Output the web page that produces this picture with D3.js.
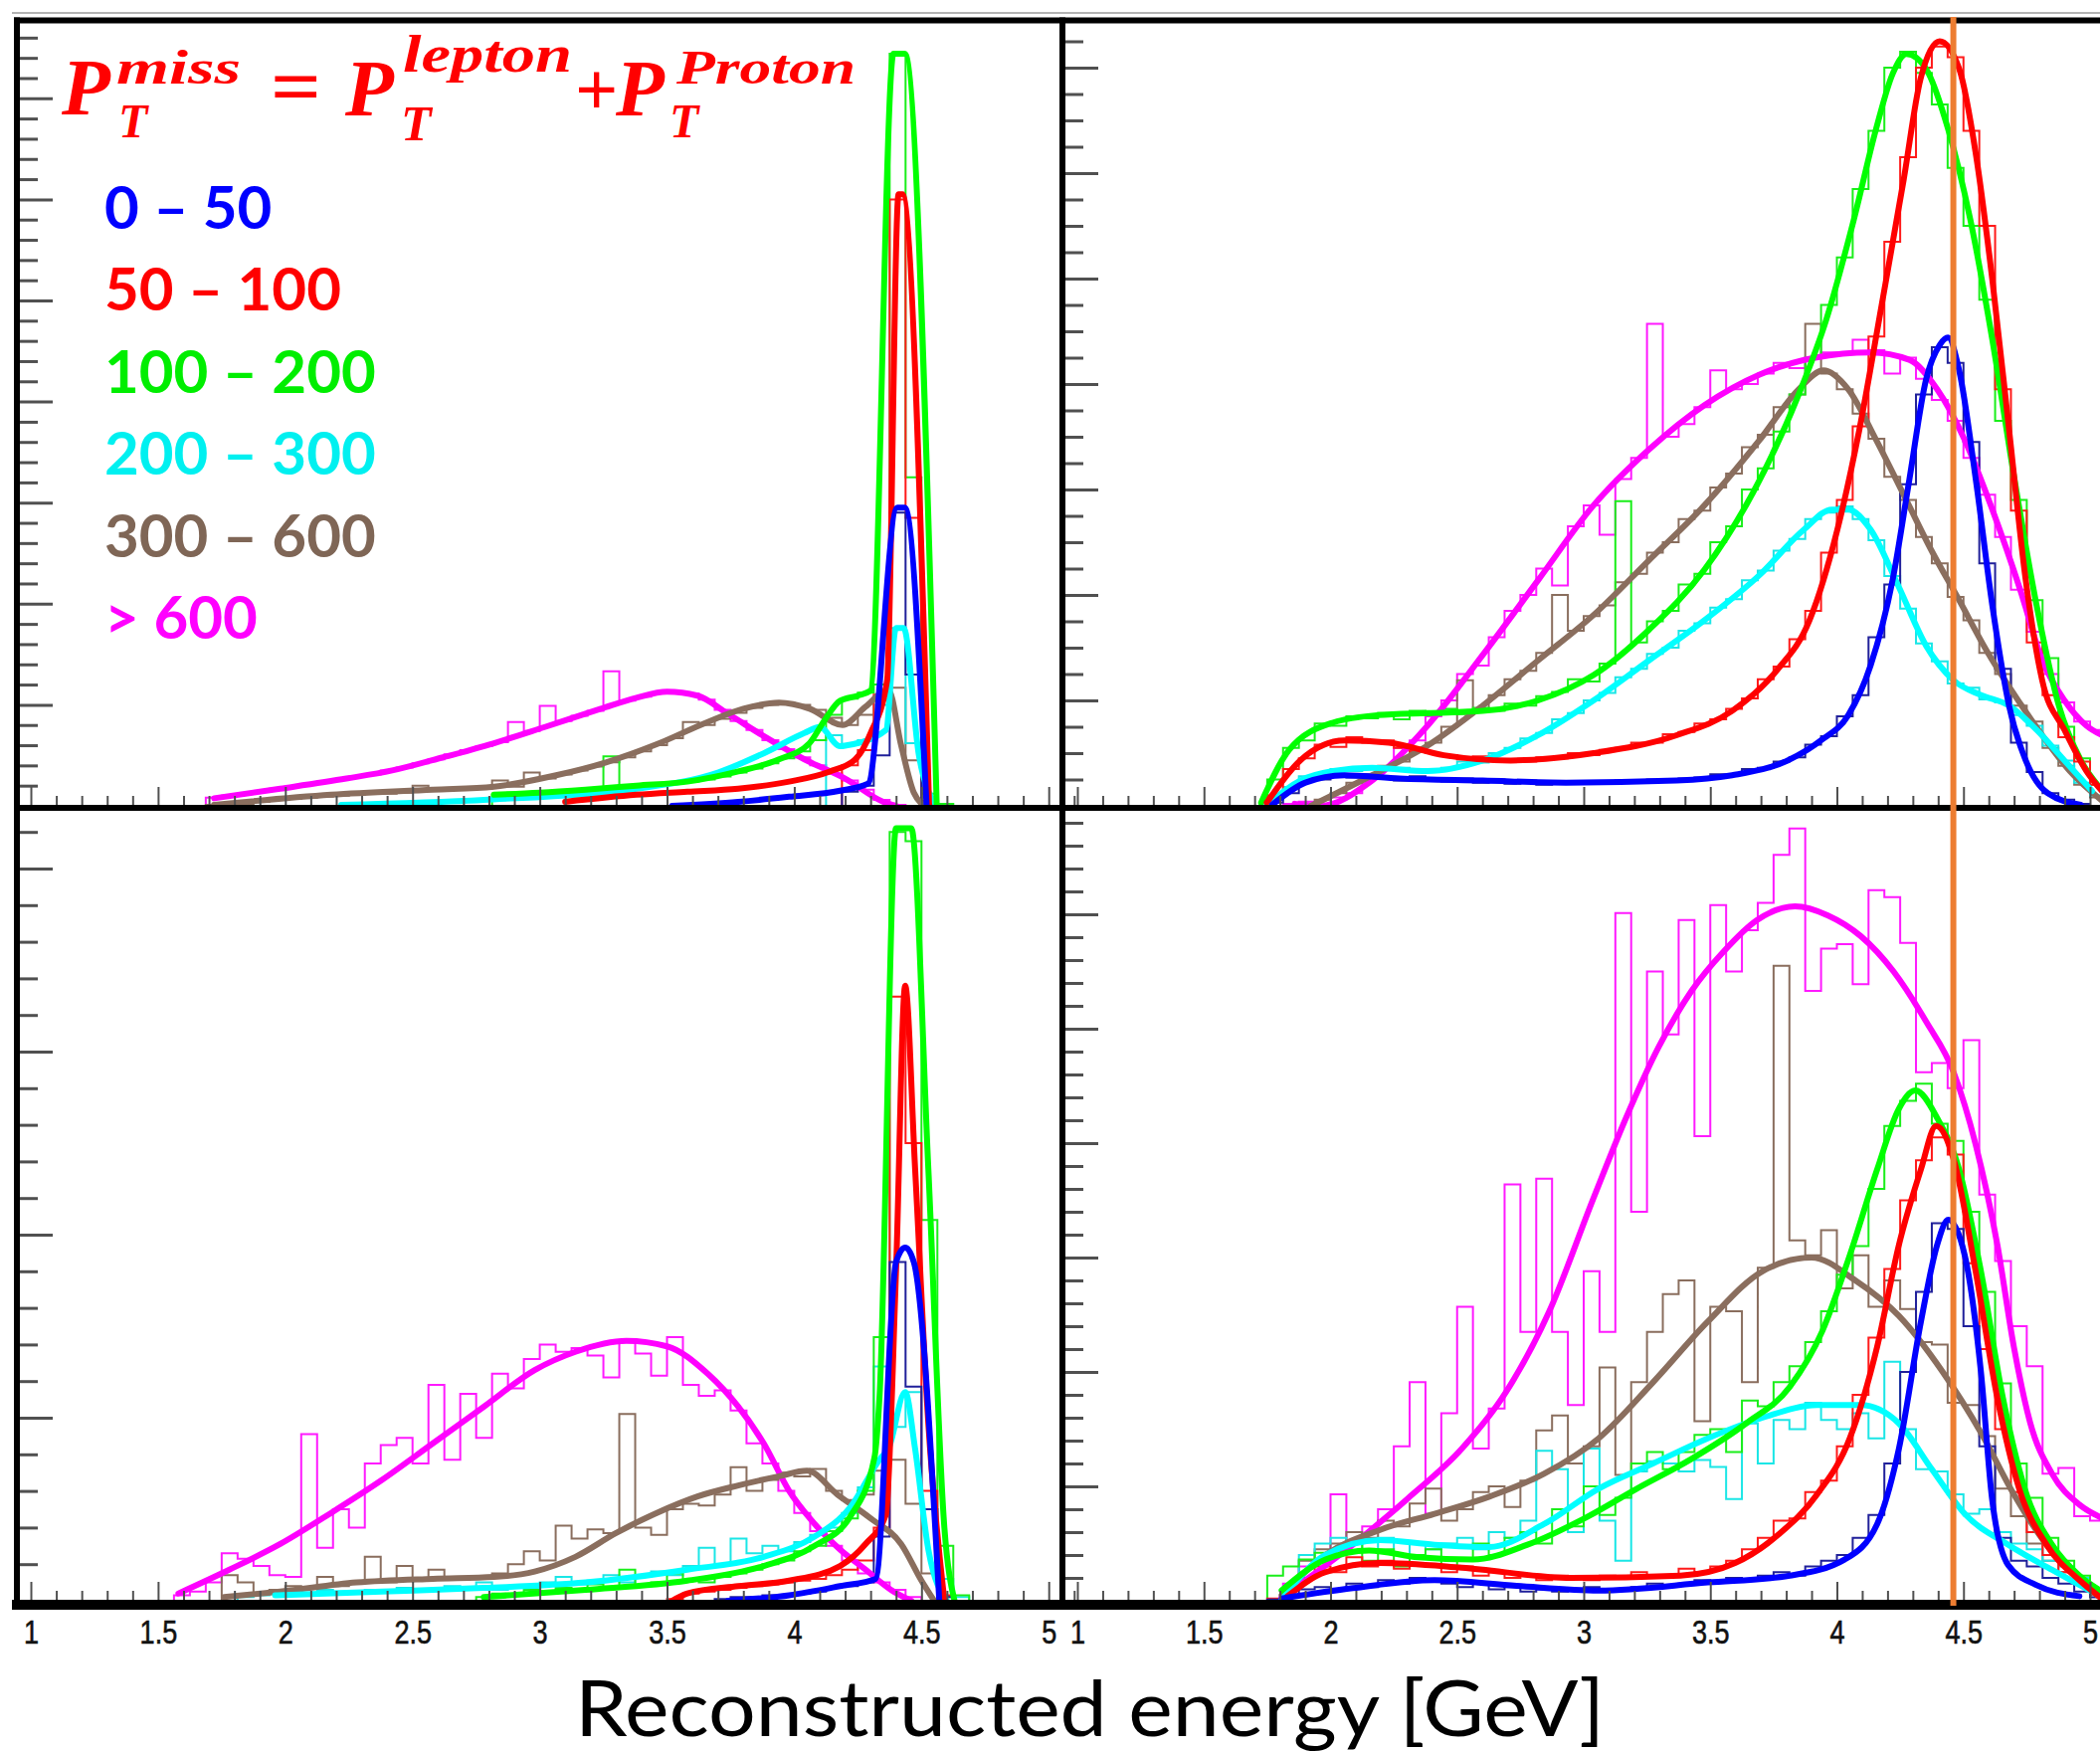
<!DOCTYPE html>
<html><head><meta charset="utf-8">
<script src="https://cdn.jsdelivr.net/npm/d3@7/dist/d3.min.js"></script>
<style>html,body{margin:0;padding:0;background:#fff;} svg{display:block;}</style>
</head><body>
<svg id="chart" width="2111" height="1760" xmlns="http://www.w3.org/2000/svg"></svg>
<script>
// ---------------- DATA ----------------
const seriesNames = ["0 \u2013 50", "50 \u2013 100", "100 \u2013 200", "200 \u2013 300", "300 \u2013 600", "> 600"];
const xTickValues = [1, 1.5, 2, 2.5, 3, 3.5, 4, 4.5, 5];
const xTickLabels = ["1", "1.5", "2", "2.5", "3", "3.5", "4", "4.5", "5"];
const axisTitle = "Reconstructed energy [GeV]";
const markerEnergy = 4.46;
const binWidth = 0.0625;

// fit curves [energy, value]; series order: blue, red, green, cyan, brown, magenta
// top-left
const fitTLBlue = [[3.52,0.0],[3.78,0.04],[3.98,0.09],[4.18,0.15],[4.29,0.22],[4.405,2.95],[4.435,2.95],[4.52,0.0]];
const fitTLRed = [[3.10,0.04],[3.38,0.11],[3.58,0.14],[3.78,0.17],[3.98,0.24],[4.14,0.34],[4.24,0.46],[4.30,0.72],[4.365,1.24],[4.41,6.05],[4.425,6.05],[4.53,0.0]];
const fitTLGreen = [[2.82,0.11],[3.0,0.13],[3.18,0.16],[3.38,0.2],[3.58,0.24],[3.78,0.34],[3.94,0.46],[4.06,0.62],[4.12,0.85],[4.18,1.04],[4.25,1.09],[4.30,1.14],[4.39,7.44],[4.435,7.44],[4.56,0.0]];
const fitTLCyan = [[2.22,0.01],[2.78,0.06],[3.38,0.17],[3.70,0.33],[3.88,0.52],[4.04,0.72],[4.10,0.78],[4.18,0.59],[4.21,0.6],[4.36,0.75],[4.40,1.76],[4.43,1.76],[4.49,0.5],[4.56,0.0]];
const fitTLBrown = [[1.72,0.01],[2.18,0.11],[2.58,0.16],[2.82,0.19],[3.06,0.30],[3.26,0.43],[3.46,0.61],[3.66,0.83],[3.80,0.96],[3.94,1.02],[4.06,0.96],[4.19,0.80],[4.28,0.98],[4.37,1.15],[4.42,0.6],[4.47,0.13],[4.50,0.02]];
const fitTLMagenta = [[1.72,0.075],[1.98,0.17],[2.24,0.27],[2.42,0.35],[2.62,0.48],[2.82,0.62],[3.02,0.78],[3.24,0.96],[3.38,1.07],[3.50,1.13],[3.62,1.09],[3.74,0.91],[3.88,0.69],[4.04,0.46],[4.20,0.27],[4.35,0.04],[4.40,0.0]];
// top-right
const fitTRBlue = [[1.77,0.01],[1.901,0.22],[2.055,0.29],[2.273,0.26],[2.601,0.24],[2.93,0.22],[3.367,0.24],[3.586,0.29],[3.805,0.43],[3.936,0.62],[4.045,0.86],[4.133,1.33],[4.22,2.14],[4.286,3.09],[4.352,4.04],[4.406,4.37],[4.439,4.44],[4.483,4.13],[4.549,3.09],[4.614,1.9],[4.68,0.95],[4.746,0.43],[4.833,0.12],[4.964,0.01]];
const fitTRRed = [[1.748,0.03],[1.88,0.43],[2.055,0.62],[2.23,0.6],[2.448,0.48],[2.711,0.43],[3.039,0.5],[3.367,0.67],[3.586,0.9],[3.761,1.28],[3.892,1.76],[4.002,2.62],[4.089,3.57],[4.177,4.75],[4.264,5.94],[4.33,6.89],[4.406,7.25],[4.483,6.99],[4.549,6.18],[4.614,4.99],[4.68,3.57],[4.746,2.14],[4.811,1.19],[4.899,0.72],[4.986,0.33],[5.047,0.14]];
const fitTRGreen = [[1.726,0.03],[1.836,0.53],[2.011,0.79],[2.186,0.86],[2.383,0.88],[2.601,0.9],[2.82,1.0],[3.039,1.24],[3.258,1.67],[3.477,2.24],[3.695,3.09],[3.849,3.90],[3.958,4.61],[4.067,5.56],[4.155,6.42],[4.22,6.94],[4.275,7.13],[4.352,6.99],[4.439,6.42],[4.527,5.56],[4.614,4.42],[4.702,3.09],[4.789,1.9],[4.877,0.95],[4.964,0.43],[5.047,0.15]];
const fitTRCyan = [[1.748,0.01],[1.88,0.24],[2.011,0.33],[2.164,0.36],[2.383,0.33],[2.601,0.43],[2.82,0.67],[3.039,1.0],[3.258,1.38],[3.477,1.76],[3.695,2.19],[3.87,2.62],[3.98,2.81],[4.045,2.81],[4.133,2.62],[4.242,2.09],[4.352,1.52],[4.461,1.19],[4.57,1.05],[4.68,0.95],[4.789,0.72],[4.899,0.43],[5.008,0.14]];
const fitTRBrown = [[1.923,0.0],[2.164,0.29],[2.383,0.57],[2.601,0.95],[2.82,1.38],[3.039,1.81],[3.258,2.33],[3.477,2.85],[3.695,3.47],[3.849,3.95],[3.947,4.13],[4.045,3.95],[4.155,3.47],[4.264,2.95],[4.374,2.42],[4.483,1.95],[4.592,1.47],[4.702,1.05],[4.811,0.67],[4.92,0.33],[5.047,0.05]];
const fitTRMagenta = [[1.858,0.02],[1.96,0.0],[2.164,0.24],[2.383,0.76],[2.601,1.43],[2.82,2.14],[3.039,2.85],[3.258,3.38],[3.477,3.80],[3.695,4.09],[3.914,4.25],[4.133,4.30],[4.286,4.23],[4.396,3.95],[4.505,3.47],[4.614,2.81],[4.724,2.05],[4.811,1.38],[4.899,1.0],[4.986,0.76],[5.047,0.67]];
// bottom-left
const fitBLBlue = [[3.74,0.0],[3.98,0.03],[4.18,0.08],[4.32,0.12],[4.40,1.85],[4.436,1.93],[4.47,1.85],[4.57,0.0]];
const fitBLRed = [[3.52,0.0],[3.58,0.04],[3.78,0.08],[3.98,0.11],[4.18,0.19],[4.28,0.31],[4.36,0.47],[4.40,1.8],[4.436,3.36],[4.475,2.36],[4.527,0.97],[4.59,0.0]];
const fitBLGreen = [[2.78,0.02],[3.18,0.06],[3.58,0.11],[3.88,0.19],[4.08,0.30],[4.22,0.46],[4.315,0.78],[4.335,1.11],[4.40,4.22],[4.46,4.22],[4.527,2.36],[4.59,0.4],[4.63,0.0]];
const fitBLCyan = [[1.96,0.03],[2.38,0.05],[2.78,0.07],[3.18,0.1],[3.58,0.17],[3.88,0.24],[4.08,0.35],[4.22,0.51],[4.34,0.78],[4.37,0.83],[4.436,1.14],[4.475,0.83],[4.527,0.28],[4.6,0.0]];
const fitBLBrown = [[1.76,0.02],[1.98,0.05],[2.28,0.1],[2.58,0.12],[2.82,0.13],[2.98,0.16],[3.14,0.24],[3.30,0.37],[3.46,0.48],[3.62,0.57],[3.78,0.63],[3.94,0.68],[4.05,0.71],[4.17,0.58],[4.30,0.45],[4.42,0.31],[4.50,0.11],[4.55,0.0]];
const fitBLMagenta = [[1.58,0.04],[1.78,0.17],[1.98,0.31],[2.18,0.48],[2.38,0.66],[2.58,0.86],[2.78,1.06],[2.98,1.26],[3.14,1.36],[3.34,1.42],[3.50,1.39],[3.66,1.24],[3.78,1.06],[3.88,0.86],[3.98,0.6],[4.08,0.42],[4.18,0.28],[4.28,0.17],[4.38,0.06],[4.46,0.0]];
// bottom-right
const fitBRBlue = [[1.807,0.02],[2.088,0.11],[2.411,0.18],[2.735,0.13],[3.059,0.09],[3.49,0.16],[3.814,0.22],[4.03,0.36],[4.159,0.67],[4.245,1.33],[4.332,2.44],[4.396,3.11],[4.44,3.33],[4.505,3.02],[4.569,2.0],[4.613,0.89],[4.677,0.31],[4.785,0.14],[4.958,0.04]];
const fitBRRed = [[1.83,0.04],[1.98,0.25],[2.196,0.33],[2.519,0.29],[2.951,0.20],[3.382,0.22],[3.598,0.33],[3.77,0.58],[3.922,0.93],[4.051,1.42],[4.159,2.22],[4.245,3.11],[4.332,3.77],[4.392,4.15],[4.461,3.86],[4.548,2.88],[4.634,1.77],[4.72,0.98],[4.828,0.49],[4.958,0.18],[5.04,0.03]];
const fitBRGreen = [[1.807,0.09],[1.98,0.36],[2.152,0.44],[2.347,0.38],[2.562,0.36],[2.778,0.49],[2.994,0.71],[3.21,0.98],[3.426,1.24],[3.641,1.55],[3.814,1.87],[3.943,2.36],[4.051,3.02],[4.159,3.77],[4.245,4.30],[4.31,4.46],[4.396,4.22],[4.483,3.77],[4.569,2.88],[4.656,1.77],[4.742,0.98],[4.85,0.49],[4.958,0.22],[5.04,0.09]];
const fitBRCyan = [[1.807,0.01],[1.98,0.40],[2.196,0.53],[2.411,0.49],[2.627,0.47],[2.843,0.67],[3.059,0.98],[3.274,1.20],[3.49,1.42],[3.706,1.60],[3.922,1.71],[4.094,1.71],[4.245,1.55],[4.375,1.15],[4.505,0.76],[4.677,0.49],[4.85,0.27],[5.04,0.04]];
const fitBRBrown = [[1.807,0.05],[1.98,0.40],[2.196,0.62],[2.411,0.76],[2.627,0.91],[2.843,1.11],[3.059,1.42],[3.274,1.91],[3.49,2.44],[3.706,2.88],[3.90,3.0],[4.073,2.80],[4.245,2.49],[4.418,2.0],[4.569,1.47],[4.699,0.93],[4.828,0.49],[4.958,0.18],[5.04,0.03]];
const fitBRMagenta = [[1.807,0.03],[2.088,0.49],[2.303,0.89],[2.519,1.33],[2.692,1.82],[2.864,2.53],[3.037,3.51],[3.167,4.22],[3.296,4.84],[3.426,5.33],[3.555,5.68],[3.685,5.95],[3.835,6.07],[3.965,5.99],[4.094,5.81],[4.224,5.50],[4.353,5.06],[4.461,4.62],[4.548,3.99],[4.634,3.11],[4.699,2.22],[4.763,1.56],[4.85,1.11],[4.958,0.84],[5.04,0.73]];

// histograms: first bin low edge + bin contents (bin width 0.0625 GeV)
const histTLBlueStart = 4.1875, histTLBlue = [0.14,0.2,0.5,2.9,1.3,0.02];
const histTLRedStart = 4.1875, histTLRed = [0.4,0.55,1.1,6.0,2.85,0.05];
const histTLGreenStart = 2.8125, histTLGreen = [0.11,0.12,0.12,0.13,0.14,0.15,0.16,0.49,0.18,0.19,0.21,0.22,0.24,0.26,0.29,0.33,0.37,0.42,0.47,0.54,0.65,0.9,1.06,1.12,1.2,7.44,3.25,0.12,0.02];
const histTLCyanStart = 4.125, histTLCyan = [0.7,0.6,0.65,1.0,1.76,0.62,0.03];
const histTLBrownStart = 1.6875, histTLBrown = [0.01,0.01,0.02,0.04,0.06,0.07,0.08,0.09,0.1,0.11,0.12,0.12,0.13,0.2,0.15,0.16,0.17,0.17,0.25,0.19,0.33,0.27,0.31,0.35,0.39,0.43,0.48,0.54,0.6,0.67,0.83,0.8,0.86,0.92,0.97,1.0,1.02,1.0,0.95,0.87,0.8,0.9,1.05,1.17,0.45,0.05];
const histTLMagentaStart = 1.6875, histTLMagenta = [0.08,0.1,0.12,0.14,0.17,0.19,0.21,0.24,0.26,0.29,0.31,0.35,0.38,0.42,0.46,0.51,0.55,0.59,0.63,0.83,0.74,0.99,0.84,0.89,0.94,1.33,1.04,1.08,1.12,1.13,1.11,1.05,0.95,0.84,0.75,0.65,0.56,0.48,0.4,0.32,0.25,0.16,0.06,0.01];

const histTRBlueStart = 1.75, histTRBlue = [0.03,0.12,0.24,0.25,0.3,0.27,0.3,0.26,0.24,0.28,0.25,0.23,0.26,0.22,0.25,0.21,0.24,0.2,0.23,0.21,0.23,0.22,0.24,0.22,0.25,0.23,0.26,0.27,0.3,0.3,0.35,0.36,0.42,0.46,0.58,0.66,0.85,1.05,1.6,2.1,3.05,3.9,4.35,4.2,3.45,2.3,1.3,0.6,0.32,0.12,0.06,0.02,0.0];
const histTRRedStart = 1.75, histTRRed = [0.1,0.35,0.45,0.58,0.56,0.65,0.6,0.62,0.55,0.52,0.5,0.48,0.44,0.47,0.43,0.44,0.42,0.46,0.45,0.5,0.48,0.53,0.55,0.6,0.6,0.68,0.7,0.78,0.82,0.92,1.02,1.2,1.32,1.58,1.85,2.4,2.9,3.6,4.45,5.35,6.15,7.0,7.2,7.1,6.4,5.5,3.95,2.8,1.55,1.05,0.65,0.42,0.2];
const histTRGreenStart = 1.75, histTRGreen = [0.25,0.55,0.62,0.78,0.76,0.85,0.83,0.88,0.82,0.9,0.86,0.92,0.87,0.93,0.9,0.97,0.95,1.04,1.08,1.2,1.18,1.35,2.89,1.55,1.75,1.85,2.1,2.2,2.5,2.65,3.0,3.2,3.55,3.9,4.25,4.75,5.2,5.85,6.4,7.0,7.15,6.95,6.65,6.05,5.5,4.8,3.65,2.9,1.95,1.4,0.75,0.45,0.2];
const histTRCyanStart = 1.75, histTRCyan = [0.06,0.18,0.28,0.3,0.35,0.33,0.37,0.34,0.36,0.32,0.35,0.36,0.42,0.41,0.5,0.55,0.64,0.69,0.82,0.88,1.0,1.07,1.22,1.3,1.44,1.5,1.66,1.73,1.88,1.96,2.14,2.23,2.42,2.53,2.72,2.78,2.84,2.72,2.52,2.18,1.87,1.54,1.37,1.16,1.12,1.01,0.98,0.86,0.76,0.57,0.43,0.22,0.1];
const histTRBrownStart = 1.75, histTRBrown = [0,0,0,0.06,0.12,0.22,0.27,0.38,0.42,0.55,0.6,0.75,1.19,0.92,1.05,1.2,1.28,1.45,2.0,1.66,1.8,1.9,2.12,2.2,2.4,2.5,2.72,2.8,3.02,3.15,3.4,3.52,3.78,3.9,4.57,4.1,3.95,3.72,3.48,3.12,2.9,2.55,2.3,1.98,1.76,1.45,1.25,0.95,0.8,0.55,0.38,0.2,0.08];
const histTRMagentaStart = 1.75, histTRMagenta = [0,0.02,0.04,0.0,0.08,0.12,0.26,0.35,0.55,0.62,0.85,1.0,1.25,1.33,1.6,1.85,2.0,2.25,2.09,2.65,2.85,2.57,3.1,3.3,4.57,3.5,3.62,3.78,4.13,3.95,4.0,4.1,4.2,4.15,4.25,4.3,4.3,4.42,4.32,4.1,4.25,4.05,3.85,3.65,3.3,2.95,2.55,2.05,1.65,1.25,0.98,0.8,0.72];

const histBLBlueStart = 3.6875, histBLBlue = [0.01,0.02,0.02,0.03,0.03,0.04,0.05,0.07,0.08,0.1,0.35,1.85,1.17,0.5,0.02];
const histBLRedStart = 3.5, histBLRed = [0.01,0.04,0.05,0.06,0.07,0.08,0.09,0.1,0.11,0.12,0.14,0.17,0.22,0.4,3.3,2.5,0.6,0.03];
const histBLGreenStart = 2.75, histBLGreen = [0.02,0.04,0.03,0.06,0.05,0.07,0.06,0.09,0.07,0.17,0.08,0.1,0.15,0.11,0.1,0.13,0.15,0.17,0.2,0.22,0.27,0.3,0.38,0.45,0.6,1.44,4.2,4.15,2.08,0.3,0.03];
const histBLCyanStart = 1.5625, histBLCyan = [0,0,0,0,0.02,0.03,0.04,0.05,0.04,0.06,0.05,0.05,0.06,0.05,0.07,0.05,0.06,0.08,0.07,0.1,0.06,0.08,0.07,0.1,0.13,0.09,0.11,0.14,0.1,0.13,0.16,0.14,0.19,0.29,0.2,0.34,0.26,0.3,0.27,0.32,0.36,0.4,0.48,0.62,1.28,0.95,1.14,0.5,0.12,0.02];
const histBLBrownStart = 1.5625, histBLBrown = [0,0,0,0.14,0.1,0.04,0.06,0.08,0.07,0.13,0.08,0.1,0.24,0.1,0.19,0.11,0.17,0.12,0.13,0.12,0.15,0.2,0.27,0.22,0.41,0.34,0.39,0.37,1.02,0.4,0.36,0.5,0.53,0.52,0.58,0.73,0.6,0.66,0.7,0.68,0.72,0.6,0.55,0.58,0.71,0.77,0.53,0.15,0.02];
const histBLMagentaStart = 1.5625, histBLMagenta = [0.03,0.05,0.1,0.26,0.23,0.19,0.14,0.13,0.91,0.29,0.5,0.4,0.75,0.85,0.89,0.75,1.18,0.77,1.13,0.89,1.24,1.16,1.32,1.4,1.36,1.38,1.34,1.22,1.42,1.35,1.23,1.44,1.18,1.12,1.15,1.04,0.86,0.75,0.6,0.48,0.38,0.3,0.22,0.15,0.1,0.06,0.02];

const histBRBlueStart = 1.75, histBRBlue = [0.01,0.05,0.1,0.12,0.1,0.15,0.12,0.18,0.15,0.2,0.17,0.15,0.12,0.15,0.1,0.12,0.08,0.1,0.08,0.1,0.12,0.08,0.1,0.12,0.15,0.13,0.15,0.18,0.16,0.2,0.18,0.22,0.25,0.22,0.3,0.35,0.4,0.55,0.75,1.2,2.0,2.7,3.3,3.25,2.4,1.35,0.55,0.35,0.3,0.2,0.15,0.08,0.03];
const histBRRedStart = 1.75, histBRRed = [0.02,0.1,0.2,0.3,0.25,0.38,0.3,0.35,0.28,0.33,0.3,0.25,0.3,0.22,0.25,0.2,0.23,0.18,0.22,0.2,0.18,0.22,0.2,0.25,0.2,0.22,0.28,0.25,0.3,0.35,0.45,0.55,0.7,0.72,0.95,1.05,1.35,1.8,2.3,2.9,3.5,3.85,4.05,3.9,2.95,2.2,1.5,0.95,0.6,0.4,0.25,0.15,0.05];
const histBRGreenStart = 1.75, histBRGreen = [0.22,0.3,0.36,0.42,0.4,0.5,0.35,0.45,0.3,0.4,0.45,0.3,0.35,0.5,0.4,0.55,0.6,0.5,0.8,0.65,1.0,0.75,0.9,1.2,1.3,1.15,1.3,1.45,1.5,1.3,1.75,1.7,1.91,2.05,2.26,2.53,2.85,3.1,3.6,4.15,4.37,4.52,4.17,4.02,3.4,2.7,1.9,1.2,0.9,0.55,0.35,0.22,0.1];
const histBRCyanStart = 1.75, histBRCyan = [0,0.1,0.4,0.5,0.55,0.5,0.45,0.55,0.4,0.5,0.45,0.5,0.55,0.45,0.6,0.55,0.7,1.31,1.15,0.6,1.33,0.7,0.35,1.13,1.22,1.2,1.13,1.23,1.17,0.89,1.55,1.2,1.58,1.5,1.73,1.58,1.5,1.64,1.42,2.09,1.5,1.15,1.13,0.93,0.76,0.8,0.6,0.5,0.45,0.35,0.3,0.2,0.1];
const histBRBrownStart = 1.75, histBRBrown = [0,0.1,0.35,0.45,0.5,0.6,0.55,0.7,0.65,0.85,0.98,0.7,0.8,0.95,1.0,0.82,1.05,1.49,1.62,1.2,1.35,2.04,1.1,1.91,2.35,2.68,2.8,1.57,2.57,2.53,1.91,2.91,5.55,3.15,3.02,3.24,2.73,3.02,2.57,2.8,2.55,2.26,2.24,1.73,1.71,1.44,0.98,0.74,0.5,0.35,0.25,0.15,0.08];
const histBRMagentaStart = 1.75, histBRMagenta = [0,0.15,0.3,0.35,0.93,0.5,0.65,0.8,1.35,1.91,0.76,1.64,2.57,1.33,1.68,3.64,2.35,3.69,2.35,1.71,2.88,2.35,6.01,3.40,5.50,4.95,5.95,4.06,6.08,5.50,5.86,6.1,6.52,6.75,5.33,5.70,5.74,5.39,6.21,6.15,5.75,4.62,4.7,4.48,4.9,3.55,2.97,2.4,2.05,1.11,1.16,0.74,0.7];

// ---------------- STYLE / LAYOUT ----------------
const fitColors = ["#0000ff", "#ff0000", "#00ff00", "#00ffff", "#8a6e5e", "#ff00ff"];
const histColors = ["#20209a", "#ff1a1a", "#1aee1a", "#1ae6e6", "#8a6e5e", "#ff1aff"];
const legendColors = ["#0000ff", "#ff0000", "#00ee00", "#00f0f0", "#7f6656", "#ff00ff"];
const drawOrder = [5, 4, 3, 2, 1, 0];

const panels = [
  { id: "TL", xr: [31, 1054.2], clip: [20, 23, 1045, 787], base: 810, unit: 101.6, yTop: 7.8, minorStep: 0.2, axisX: 20, bottom: false,
    fits: [fitTLBlue, fitTLRed, fitTLGreen, fitTLCyan, fitTLBrown, fitTLMagenta],
    hists: [[histTLBlueStart, histTLBlue], [histTLRedStart, histTLRed], [histTLGreenStart, histTLGreen], [histTLCyanStart, histTLCyan], [histTLBrownStart, histTLBrown], [histTLMagentaStart, histTLMagenta]] },
  { id: "TR", xr: [1083, 2101], clip: [1071, 23, 1045, 787], base: 810, unit: 106, yTop: 7.4, minorStep: 0.25, axisX: 1071, bottom: false,
    fits: [fitTRBlue, fitTRRed, fitTRGreen, fitTRCyan, fitTRBrown, fitTRMagenta],
    hists: [[histTRBlueStart, histTRBlue], [histTRRedStart, histTRRed], [histTRGreenStart, histTRGreen], [histTRCyanStart, histTRCyan], [histTRBrownStart, histTRBrown], [histTRMagentaStart, histTRMagenta]] },
  { id: "BL", xr: [31, 1054.2], clip: [20, 815, 1045, 794], base: 1609, unit: 184, yTop: 4.3, minorStep: 0.2, axisX: 20, bottom: true,
    fits: [fitBLBlue, fitBLRed, fitBLGreen, fitBLCyan, fitBLBrown, fitBLMagenta],
    hists: [[histBLBlueStart, histBLBlue], [histBLRedStart, histBLRed], [histBLGreenStart, histBLGreen], [histBLCyanStart, histBLCyan], [histBLBrownStart, histBLBrown], [histBLMagentaStart, histBLMagenta]] },
  { id: "BR", xr: [1083, 2101], clip: [1071, 815, 1045, 794], base: 1609, unit: 115, yTop: 6.9, minorStep: 0.2, axisX: 1071, bottom: true,
    fits: [fitBRBlue, fitBRRed, fitBRGreen, fitBRCyan, fitBRBrown, fitBRMagenta],
    hists: [[histBRBlueStart, histBRBlue], [histBRRedStart, histBRRed], [histBRGreenStart, histBRGreen], [histBRCyanStart, histBRCyan], [histBRBrownStart, histBRBrown], [histBRMagentaStart, histBRMagenta]] }
];

const svg = d3.select("#chart");
svg.append("rect").attr("width", 2111).attr("height", 1760).attr("fill", "#fff");
const defs = svg.append("defs");
const plotLayer = svg.append("g");
const frameLayer = svg.append("g");
const tickLayer = svg.append("g");
const overLayer = svg.append("g");

const scales = {};
panels.forEach(p => {
  const x = d3.scaleLinear().domain([1, 5]).range(p.xr);
  const y = d3.scaleLinear().domain([0, 1]).range([p.base, p.base - p.unit]);
  scales[p.id] = { x, y };
  defs.append("clipPath").attr("id", "clip" + p.id)
    .append("rect").attr("x", p.clip[0]).attr("y", p.clip[1]).attr("width", p.clip[2]).attr("height", p.clip[3]);
  const g = plotLayer.append("g").attr("clip-path", `url(#clip${p.id})`);
  const lin = d3.line().x(d => x(d[0])).y(d => y(d[1]));
  drawOrder.forEach(i => {
    const [start, vals] = p.hists[i];
    const pts = [[start, 0]];
    vals.forEach((v, k) => { pts.push([start + k * binWidth, v]); pts.push([start + (k + 1) * binWidth, v]); });
    pts.push([start + vals.length * binWidth, 0]);
    g.append("path").attr("d", lin(pts)).attr("fill", "none")
      .attr("stroke", histColors[i]).attr("stroke-width", 2);
  });
  const fitLine = d3.line().x(d => x(d[0])).y(d => y(d[1])).curve(d3.curveMonotoneX);
  drawOrder.forEach(i => {
    g.append("path").attr("d", fitLine(p.fits[i])).attr("fill", "none")
      .attr("stroke", fitColors[i]).attr("stroke-width", 6)
      .attr("stroke-linejoin", "round").attr("stroke-linecap", "round");
  });

  // y ticks (no labels)
  const majors = d3.range(1, Math.floor(p.yTop) + 1);
  const minors = d3.range(p.minorStep, p.yTop, p.minorStep).filter(v => Math.abs(v - Math.round(v)) > 1e-6);
  [[majors, 33], [minors, 18]].forEach(([vals, len]) => {
    const ax = d3.axisRight(y).tickValues(vals).tickSize(len).tickFormat("");
    tickLayer.append("g").attr("transform", `translate(${p.axisX},0)`).call(ax)
      .call(s => s.select(".domain").remove())
      .call(s => s.selectAll("line").attr("stroke", "#505050").attr("stroke-width", 3));
  });
  // x ticks (pointing up from the bottom edge)
  const xMinor = d3.range(1, 5.15, 0.1).filter(v => Math.abs(v * 2 - Math.round(v * 2)) > 1e-6);
  [[xTickValues, 18], [xMinor, 9]].forEach(([vals, len]) => {
    const ax = d3.axisTop(x).tickValues(vals).tickSize(len).tickFormat("");
    tickLayer.append("g").attr("transform", `translate(0,${p.base - 1})`).call(ax)
      .call(s => s.select(".domain").remove())
      .call(s => s.selectAll("line").attr("stroke", "#505050").attr("stroke-width", 2));
  });
  if (p.bottom) {
    const ax = d3.axisBottom(x).tickValues(xTickValues).tickSize(0).tickPadding(0)
      .tickFormat((d, i) => xTickLabels[i]);
    const ag = tickLayer.append("g").attr("transform", `translate(0,1652)`).call(ax);
    ag.select(".domain").remove();
    ag.selectAll("text").attr("dy", 0).attr("y", 0)
      .attr("font-family", "'Liberation Sans', Arial, sans-serif").attr("font-size", 33)
      .attr("fill", "#111").attr("stroke", "#111").attr("stroke-width", 0.6)
      .attr("transform", "scale(0.82,1)");
  }
});

// frame
const blk = "#000";
frameLayer.append("line").attr("x1", 12).attr("x2", 2111).attr("y1", 13).attr("y2", 13).attr("stroke", "#9a9a9a").attr("stroke-width", 1.5);
frameLayer.append("line").attr("x1", 14).attr("x2", 2111).attr("y1", 20.5).attr("y2", 20.5).attr("stroke", blk).attr("stroke-width", 6);
frameLayer.append("line").attr("x1", 14).attr("x2", 2111).attr("y1", 812).attr("y2", 812).attr("stroke", blk).attr("stroke-width", 6);
frameLayer.append("line").attr("x1", 12).attr("x2", 2111).attr("y1", 1613).attr("y2", 1613).attr("stroke", blk).attr("stroke-width", 10);
frameLayer.append("line").attr("x1", 17).attr("x2", 17).attr("y1", 17.5).attr("y2", 1618).attr("stroke", blk).attr("stroke-width", 6);
frameLayer.append("line").attr("x1", 1068).attr("x2", 1068).attr("y1", 17.5).attr("y2", 1618).attr("stroke", blk).attr("stroke-width", 6);

// marker line
const xr = scales.TR.x;
overLayer.append("line").attr("x1", xr(markerEnergy)).attr("x2", xr(markerEnergy))
  .attr("y1", 17).attr("y2", 1614).attr("stroke", "#ED7D31").attr("stroke-width", 6);

// formula as a single text element with positioned pieces
const serif = "'Liberation Serif', 'DejaVu Serif', serif";
const formula = overLayer.append("text").attr("font-family", serif).attr("font-weight", "bold")
  .attr("font-style", "italic").attr("fill", "#ff0000");
const pieces = [
  ["P", 62, 115, 80, null, false],
  ["miss", 117, 84, 48, 125, false],
  ["T", 119, 138, 48, null, false],
  ["=", 272, 114, 80, 51, true],
  ["P", 347, 116, 80, null, false],
  ["lepton", 405, 72, 52, 170, false],
  ["T", 403, 141, 50, null, false],
  ["+", 578, 116, 76, null, true],
  ["P", 619, 116, 80, null, false],
  ["Proton", 680, 84, 48, 180, false],
  ["T", 673, 138, 48, null, false]
];
pieces.forEach(([t, px, py, fs, len, upright]) => {
  const s = formula.append("tspan").attr("x", px).attr("y", py).attr("font-size", fs).text(t);
  if (upright) s.attr("font-style", "normal");
  if (len) s.attr("textLength", len).attr("lengthAdjust", "spacingAndGlyphs");
});

// legend
const legendBase = [230, 312, 395, 477, 560, 642];
seriesNames.forEach((n, i) => {
  overLayer.append("text").attr("x", 105).attr("y", legendBase[i]).text(n)
    .attr("font-family", "Lato, 'Open Sans', sans-serif").attr("font-weight", "bold")
    .attr("font-size", 60).attr("fill", legendColors[i]);
});

// axis title
overLayer.append("text").attr("x", 578).attr("y", 1745).text(axisTitle)
  .attr("font-family", "Lato, 'Open Sans', sans-serif").attr("font-size", 77)
  .attr("fill", "#000").attr("textLength", 1035).attr("lengthAdjust", "spacingAndGlyphs");
</script>
</body></html>
